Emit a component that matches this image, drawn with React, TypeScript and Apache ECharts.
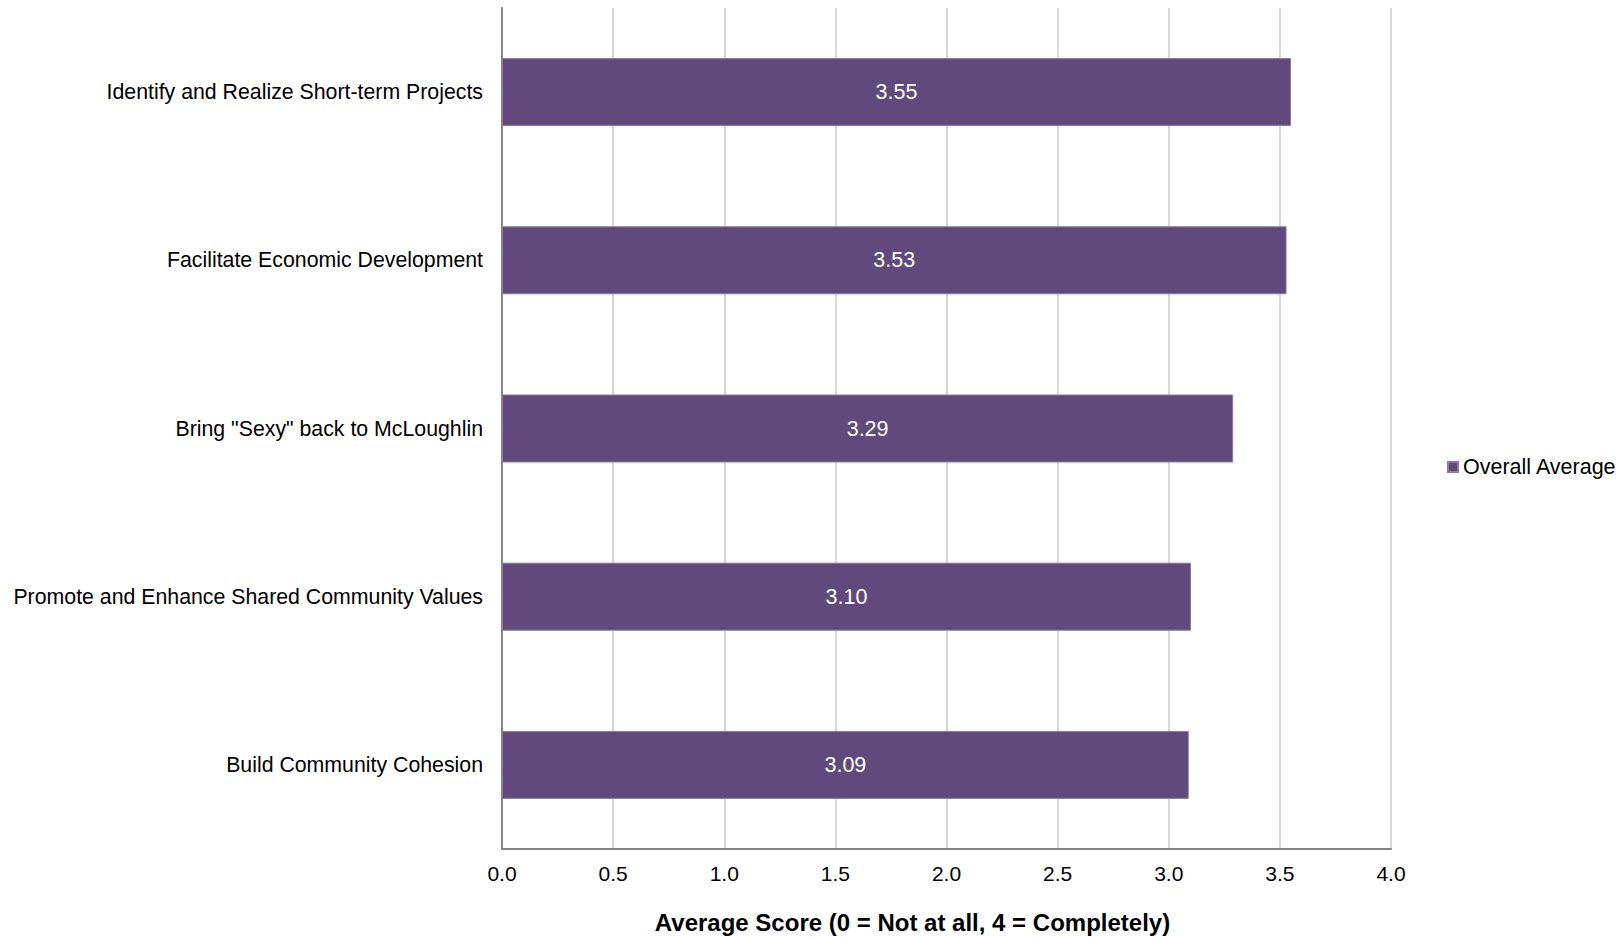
import React, { useEffect, useRef } from "react";
import * as echarts from "echarts";

const categories = [
  "Identify and Realize Short-term Projects",
  "Facilitate Economic Development",
  'Bring "Sexy" back to McLoughlin',
  "Promote and Enhance Shared Community Values",
  "Build Community Cohesion",
];
const overallAverage = [3.55, 3.53, 3.29, 3.1, 3.09];
const seriesName = "Overall Average";
const axisTitle = "Average Score (0 = Not at all, 4 = Completely)";

export default function App() {
  const ref = useRef<HTMLDivElement>(null);
  useEffect(() => {
    if (!ref.current) return;
    const chart = echarts.init(ref.current, undefined, { renderer: "svg" });
    const font = "'Liberation Sans', Arial, sans-serif";
    chart.setOption({
      animation: false,
      textStyle: { fontFamily: font },
      legend: {
        data: [seriesName],
        orient: "vertical",
        left: 1447,
        top: 456,
        padding: 0,
        itemWidth: 10,
        itemHeight: 10,
        itemGap: 4,
        textStyle: { fontSize: 21.5, color: "#000", fontFamily: font },
        icon: "rect",
      },
      grid: {
        left: 502,
        right: 231,
        top: 8,
        bottom: 88,
        containLabel: false,
        outerBoundsMode: "none",
      },
      xAxis: {
        type: "value",
        min: 0,
        max: 4,
        interval: 0.5,
        name: axisTitle,
        nameLocation: "middle",
        nameGap: 61,
        nameTextStyle: {
          fontSize: 24,
          fontWeight: "bold",
          color: "#000",
          fontFamily: font,
          padding: [0, 68, 0, 0],
        },
        axisLine: { show: true, lineStyle: { color: "#868686", width: 2 } },
        axisTick: { show: false },
        axisLabel: {
          fontSize: 21,
          color: "#000",
          margin: 14,
          formatter: (v: number) => v.toFixed(1),
        },
        splitLine: { show: true, lineStyle: { color: "#d9d9d9", width: 2 } },
      },
      yAxis: {
        type: "category",
        data: categories,
        inverse: true,
        axisLine: { show: true, lineStyle: { color: "#868686", width: 2 } },
        axisTick: { show: false },
        axisLabel: { fontSize: 21.3, color: "#000", margin: 19 },
      },
      series: [
        {
          name: seriesName,
          type: "bar",
          data: overallAverage,
          barWidth: 68,
          itemStyle: { color: "#604a7b", borderColor: "#8c7aa3", borderWidth: 1 },
          label: {
            show: true,
            position: "inside",
            color: "#fff",
            fontSize: 21.5,
            formatter: (p: any) => Number(p.value).toFixed(2),
          },
        },
      ],
    });
    return () => chart.dispose();
  }, []);
  return <div ref={ref} style={{ width: 1622, height: 937, position: "absolute", left: 0, top: 0 }} />;
}
